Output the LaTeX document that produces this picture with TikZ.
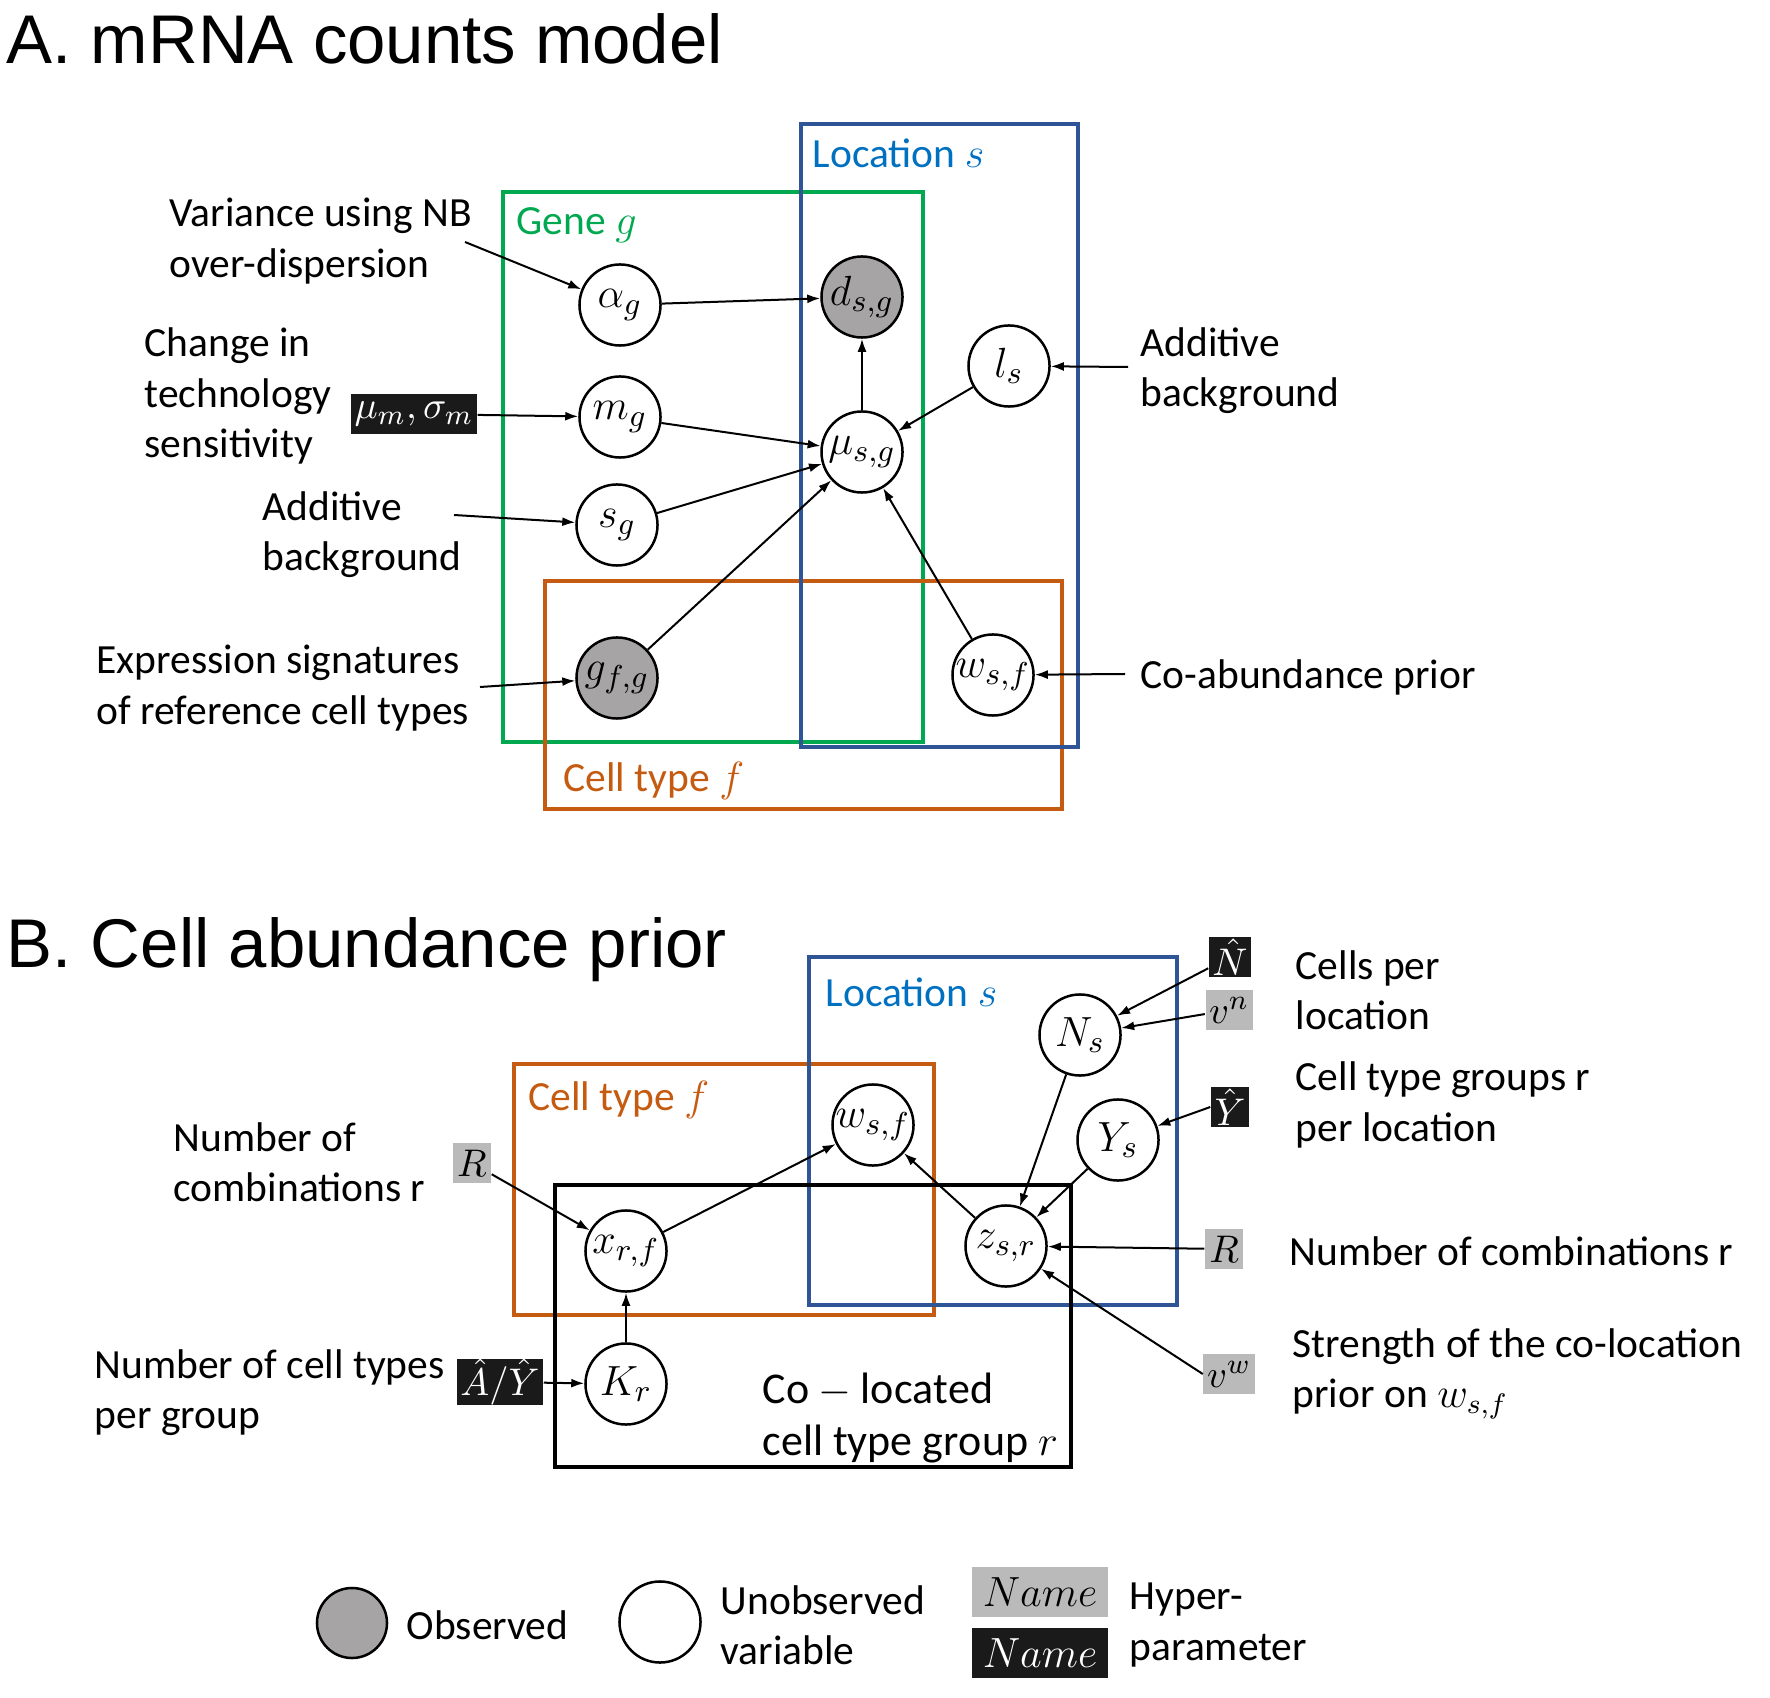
\documentclass[tikz,border=0pt]{standalone}
\usepackage{fontspec}
\setmainfont{Carlito}
\newfontfamily\headfont{Liberation Sans}
\usetikzlibrary{arrows.meta}
\definecolor{genegreen}{HTML}{00A94F}
\definecolor{locblue}{HTML}{2F5597}
\definecolor{loctext}{HTML}{0070C0}
\definecolor{cellorange}{HTML}{C55A11}
\definecolor{obsgray}{HTML}{A6A4A4}
\definecolor{hypgray}{HTML}{BABABA}
\definecolor{hypblack}{HTML}{1A1A1A}
\begin{document}
\begin{tikzpicture}[x=0.01cm, y=-0.01cm,
  var/.style={circle, draw, line width=0.025cm, fill=white, minimum size=0.81cm, inner sep=0pt, font=\fontsize{13}{15}\selectfont},
  obs/.style={var, fill=obsgray},
  hypg/.style={fill=hypgray, minimum height=0.4cm, minimum width=0.38cm, inner xsep=1pt, inner ysep=0pt, font=\fontsize{11}{13}\selectfont},
  hypb/.style={hypg, fill=hypblack, text=white},
  lbl/.style={anchor=west, align=left, inner sep=0pt, font=\fontsize{11.8}{14.3}\selectfont},
  arr/.style={-{Latex[length=0.13cm, width=0.09cm]}, line width=0.02cm},
  plate/.style={line width=0.04cm},
  head/.style={anchor=base west, inner sep=0pt, font=\headfont\fontsize{19.6}{23}\selectfont}]
\useasboundingbox (0,0) rectangle (1770,1698);

% Panel titles
\node[head] (titleA) at (6,64) {A. mRNA counts model};
\node[head] (titleB) at (6,967) {B. Cell abundance prior};

% Plates of panel A
\draw[plate, genegreen] (503,192) rectangle (923,742);
\draw[plate, cellorange] (545,581) rectangle (1062,809);
\draw[plate, locblue] (801,124) rectangle (1078,747);
\node[lbl, text=genegreen] (geneA) at (516,225) {Gene $g$};
\node[lbl, text=loctext] (locA) at (812,153) {Location $s$};
\node[lbl, text=cellorange] (cellA) at (563,781) {Cell type $f$};

% Variables of panel A
\node[var] (alpha) at (620,305) {$\alpha_g$};
\node[obs] (dsg) at (862,297) {$d_{s,g}$};
\node[var] (ls) at (1009,366) {$l_s$};
\node[var] (mg) at (620,417) {$m_g$};
\node[var] (musg) at (862,452) {$\mu_{s,g}$};
\node[var] (sg) at (617,525) {$s_g$};
\node[obs] (gfg) at (617,678) {$g_{f,g}$};
\node[var] (wsfA) at (993,675) {$w_{s,f}$};
\node[hypb] (muSig) at (414,414) {$\mu_m,\sigma_m$};

% Labels of panel A
\node[lbl] (varLbl) at (169,241) {Variance using NB\\over-dispersion};
\node[lbl] (techLbl) at (144,396) {Change in\\technology\\sensitivity};
\node[lbl] (addLbl) at (262,535) {Additive\\background};
\node[lbl] (exprLbl) at (96,688) {Expression signatures\\of reference cell types};
\node[lbl] (addRLbl) at (1140,371) {Additive\\background};
\node[lbl] (coabLbl) at (1140,677) {Co-abundance prior};
\coordinate (varTip) at (465,242);
\coordinate (addTip) at (454,515);
\coordinate (exprTip) at (480,687);
\coordinate (addRTip) at (1128,367);
\coordinate (coabTip) at (1125,674);

% Edges of panel A
\draw[arr] (alpha) -- (dsg);
\draw[arr] (musg) -- (dsg);
\draw[arr] (mg) -- (musg);
\draw[arr] (sg) -- (musg);
\draw[arr] (gfg) -- (musg);
\draw[arr] (ls) -- (musg);
\draw[arr] (wsfA) -- (musg);
\draw[arr] (muSig) -- (mg);
\draw[arr] (varTip) -- (alpha);
\draw[arr] (addTip) -- (sg);
\draw[arr] (exprTip) -- (gfg);
\draw[arr] (addRTip) -- (ls);
\draw[arr] (coabTip) -- (wsfA);

% Plates of panel B
\draw[plate, cellorange] (514,1064) rectangle (934,1315);
\draw[plate, locblue] (809,957) rectangle (1177,1305);
\draw[plate, black] (555,1185) rectangle (1071,1467);
\node[lbl, text=loctext] (locB) at (825,992) {Location $s$};
\node[lbl, text=cellorange] (cellB) at (528,1100) {Cell type $f$};
\node[lbl, font=\fontsize{12.5}{14.8}\selectfont] (colocB) at (762,1418) {$\mathrm{Co}-\mathrm{located}$\\$\mathrm{cell\ type\ group}\ r$};

% Variables of panel B
\node[var] (Ns) at (1080,1035) {$N_s$};
\node[var] (Ys) at (1118,1140) {$Y_s$};
\node[var] (wsfB) at (873,1125) {$w_{s,f}$};
\node[var] (xrf) at (626,1251) {$x_{r,f}$};
\node[var] (zsr) at (1006,1246) {$z_{s,r}$};
\node[var] (Kr) at (626,1384) {$K_r$};

% Hyperparameters of panel B
\node[hypb] (Nhat) at (1230,957) {$\hat{N}$};
\node[hypg] (vn) at (1229,1010) {$v^n$};
\node[hypb] (Yhat) at (1230,1107) {$\hat{Y}$};
\node[hypg] (Rr) at (1224,1249) {$R$};
\node[hypg] (vw) at (1229,1374) {$v^w$};
\node[hypg] (Rl) at (472,1163) {$R$};
\node[hypb, font=\fontsize{10.5}{12}\selectfont] (AY) at (500,1382) {$\hat{A}/\hat{Y}$};

% Labels of panel B
\node[lbl] (combLLbl) at (173,1162) {Number of\\combinations r};
\node[lbl] (typesLbl) at (94,1393) {Number of cell types\\per group};
\node[lbl] (cellsLbl) at (1295,990) {Cells per\\location};
\node[lbl] (groupsLbl) at (1295,1105) {Cell type groups r\\per location};
\node[lbl] (combRLbl) at (1289,1251) {Number of combinations r};
\node[lbl] (strLbl) at (1292,1374) {Strength of the co-location\\prior on $w_{s,f}$};

% Edges of panel B
\draw[arr] (Nhat) -- (Ns);
\draw[arr] (vn) -- (Ns);
\draw[arr] (Yhat.west) -- (Ys);
\draw[arr] (Ns) -- (zsr);
\draw[arr] (Ys) -- (zsr);
\draw[arr] (Rr) -- (zsr);
\draw[arr] (vw.west) -- (zsr);
\draw[arr] (zsr) -- (wsfB);
\draw[arr] (xrf) -- (wsfB);
\draw[arr] (Rl) -- (xrf);
\draw[arr] (Kr) -- (xrf);
\draw[arr] (AY) -- (Kr);

% Legend
\node[obs, minimum size=0.7cm] (obsKey) at (352,1623) {};
\node[lbl] (obsLbl) at (406,1625) {Observed};
\node[var] (unobsKey) at (660,1622) {};
\node[lbl] (unobsLbl) at (720,1625) {Unobserved\\variable};
\node[hypg, minimum width=1.35cm, minimum height=0.5cm, font=\fontsize{12}{14}\selectfont] (nameGray) at (1040,1592) {$Name$};
\node[hypb, minimum width=1.35cm, minimum height=0.5cm, font=\fontsize{12}{14}\selectfont] (nameBlack) at (1040,1653) {$Name$};
\node[lbl] (hypLbl) at (1129,1625) {Hyper-\\parameter};
\end{tikzpicture}
\end{document}
